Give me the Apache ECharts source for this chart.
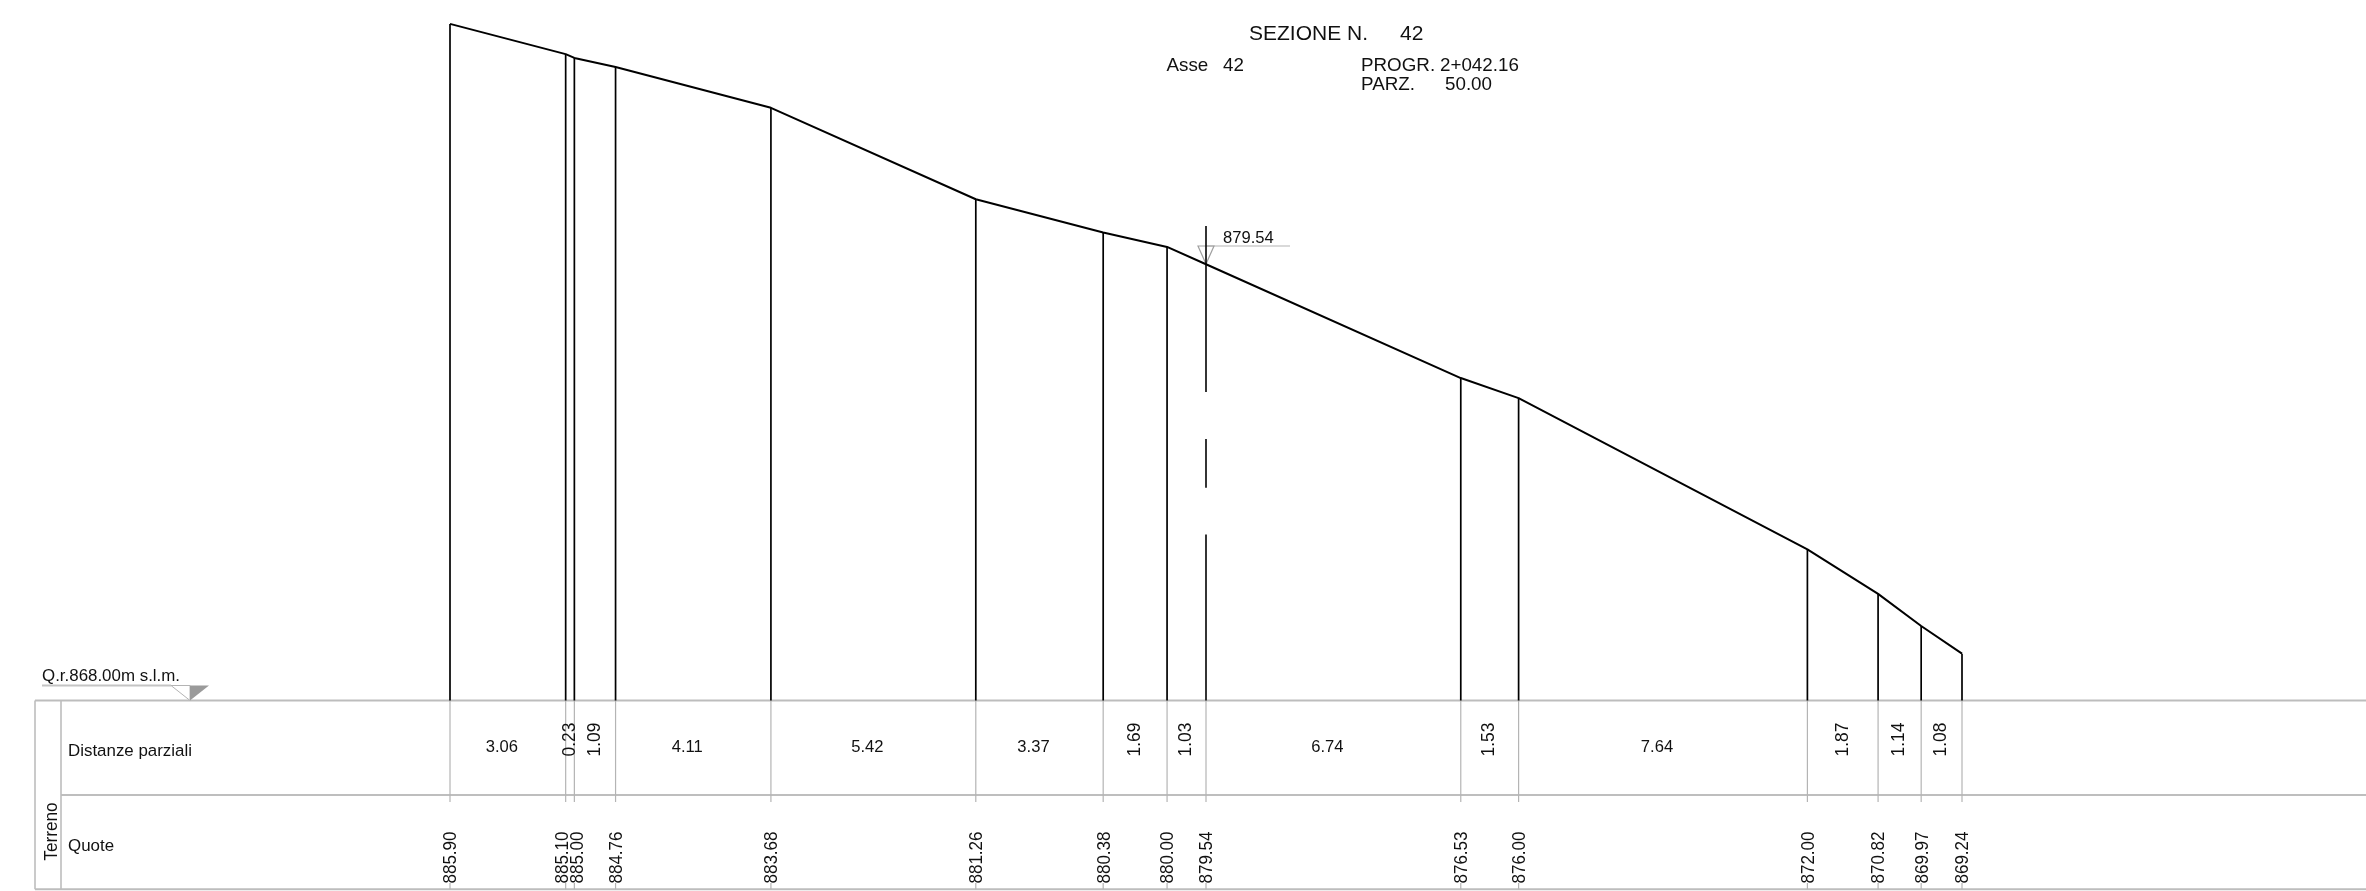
<!DOCTYPE html>
<html><head><meta charset="utf-8">
<style>html,body{margin:0;padding:0;background:#fff}#c{width:2366px;height:891px}</style>
<script src="https://cdn.jsdelivr.net/npm/echarts@6/dist/echarts.min.js"></script>
</head><body><div id="c"></div>
<script>
// Partial distances (m) between consecutive section points, and elevations (m a.s.l.)
const distanzeParziali = ['3.06','0.23','1.09','4.11','5.42','3.37','1.69','1.03','6.74','1.53','7.64','1.87','1.14','1.08'];
const quote = ['885.90','885.10','885.00','884.76','883.68','881.26','880.38','880.00','879.54','876.53','876.00','872.00','870.82','869.97','869.24'];
const quotaRif = 868;
const assePoint = 8;
const asseSegments = [[880.55, 876.16],[874.92, 873.63],[872.39, 868]];
const labelNudge = {1:-4, 2:2};

const PX = 37.8, W = 2366, H = 891, X0 = 450, Y0 = 700.5;
const T = {top:700.5, mid:795, bottom:889.3, left:35, inner:61, tickEnd:802, stubTop:883};
const GREY = '#b4b4b4', INK = '#111', FONT = '"Liberation Sans", Arial, sans-serif';

const xs = [0];
distanzeParziali.forEach(d => xs.push(+(xs[xs.length-1] + parseFloat(d)).toFixed(2)));
const profile = xs.map((x,i)=>[x, parseFloat(quote[i])]);

const seg = (x1,y1,x2,y2,color,w)=>({type:'line',shape:{x1,y1,x2,y2},style:{stroke:color,lineWidth:w}});
const txt = (x,y,text,size,opt={})=>({type:'text',x,y,rotation:opt.rot||0,scaleX:opt.sx||1,scaleY:opt.sy||1,silent:true,
  style:{text,x:0,y:0,fill:INK,font:size+'px '+FONT,align:opt.align||'left',verticalAlign:opt.va||'middle'}});
const hText = (x,y,text,size,opt={})=>txt(x,y,text,size/1.04,Object.assign({sx:1.04},opt));
const vText = (x,y,text,size)=>txt(x,y,text,size,{rot:Math.PI/2,align:'center',sy:1.1});

const option = {
  animation:false, backgroundColor:'#fff',
  grid:{left:0,top:0,width:W,height:H},
  xAxis:{type:'value',show:false,min:-X0/PX,max:(W-X0)/PX,splitLine:{show:false}},
  yAxis:{type:'value',show:false,min:quotaRif-(H-Y0)/PX,max:quotaRif+Y0/PX,splitLine:{show:false}},
  series:[
    {type:'custom',silent:true,clip:false,data:profile,z:1,
      renderItem(p,api){
        const x=api.value(0),z=api.value(1),i=p.dataIndex;
        const a=api.coord([x,z]),b=api.coord([x,quotaRif]);
        const ch=[];
        ch.push(seg(b[0],T.top,b[0],T.tickEnd,GREY,1.2));
        ch.push(seg(b[0],T.stubTop,b[0],T.bottom,GREY,1.2));
        if(i!==assePoint) ch.push(seg(a[0],a[1],b[0],b[1],'#000',1.7));
        const n=labelNudge[i]||0;
        ch.push(vText(b[0]+n+1.2,857.5,quote[i],17));
        return {type:'group',children:ch};
      },encode:{x:0,y:1}},
    {type:'custom',silent:true,clip:false,data:asseSegments,z:2,
      renderItem(p,api){
        const x=xs[assePoint];
        const a=api.coord([x,api.value(0)]),b=api.coord([x,api.value(1)]);
        return seg(a[0],a[1],b[0],b[1],'#111',1.7);
      },encode:{y:[0,1]}},
    {type:'custom',silent:true,clip:false,data:distanzeParziali.map((d,i)=>[xs[i],xs[i+1]]),z:3,
      renderItem(p,api){
        const i=p.dataIndex,d=distanzeParziali[i];
        const a=api.coord([api.value(0),quotaRif]),b=api.coord([api.value(1),quotaRif]);
        const m=(a[0]+b[0])/2;
        return parseFloat(d)<2 ? vText(m-0.5,739.5,d,17.4)
                               : hText(m-6,748,d,16.6,{align:'center'});
      },encode:{x:[0,1]}},
    {type:'line',data:profile,symbol:'none',silent:true,clip:false,z:4,
      lineStyle:{color:'#000',width:2,join:'round'}}
  ],
  graphic:{elements:[
    seg(T.left,T.top,W,T.top,'#bdbdbd',2),
    seg(T.inner,T.mid,W,T.mid,'#a8a8a8',1.6),
    seg(T.left,T.bottom,W,T.bottom,'#bdbdbd',2),
    seg(T.left,T.top,T.left,T.bottom,'#bdbdbd',1.6),
    seg(T.inner,T.top,T.inner,T.bottom,'#bdbdbd',1.6),
    seg(42,685.5,171,685.5,'#c4c4c4',2),
    {type:'polygon',shape:{points:[[171,685.5],[190,700.5],[190,685.5]]},style:{fill:'#fff',stroke:GREY,lineWidth:1}},
    {type:'polygon',shape:{points:[[190,685.5],[209,685.5],[190,700.5]]},style:{fill:'#9a9a9a'}},
    hText(42,676.5,'Q.r.868.00m s.l.m.',16.9),
    hText(68,752,'Distanze parziali',16.9),
    hText(68,846.5,'Quote',16.9),
    txt(52,831.5,'Terreno',17.2,{rot:Math.PI/2,align:'center',sy:1.1}),
    seg(1206,246,1290,246,GREY,1.2),
    {type:'polygon',shape:{points:[[1198,246],[1214,246],[1206,264]]},style:{fill:'none',stroke:'#a0a0a0',lineWidth:1.2}},
    hText(1223,238.5,'879.54',16.6),
    hText(1249,34,'SEZIONE N.',21),
    hText(1400,34,'42',21),
    hText(1166.5,66.5,'Asse',18.8),
    hText(1223,66.5,'42',18.8),
    hText(1361,66.5,'PROGR.',18.8),
    hText(1440,66.5,'2+042.16',18.8),
    hText(1361,85.5,'PARZ.',18.8),
    hText(1445,85.5,'50.00',18.8)
  ]}
};
const chart = echarts.init(document.getElementById('c'),null,{renderer:'canvas'});
chart.setOption(option);
</script></body></html>
